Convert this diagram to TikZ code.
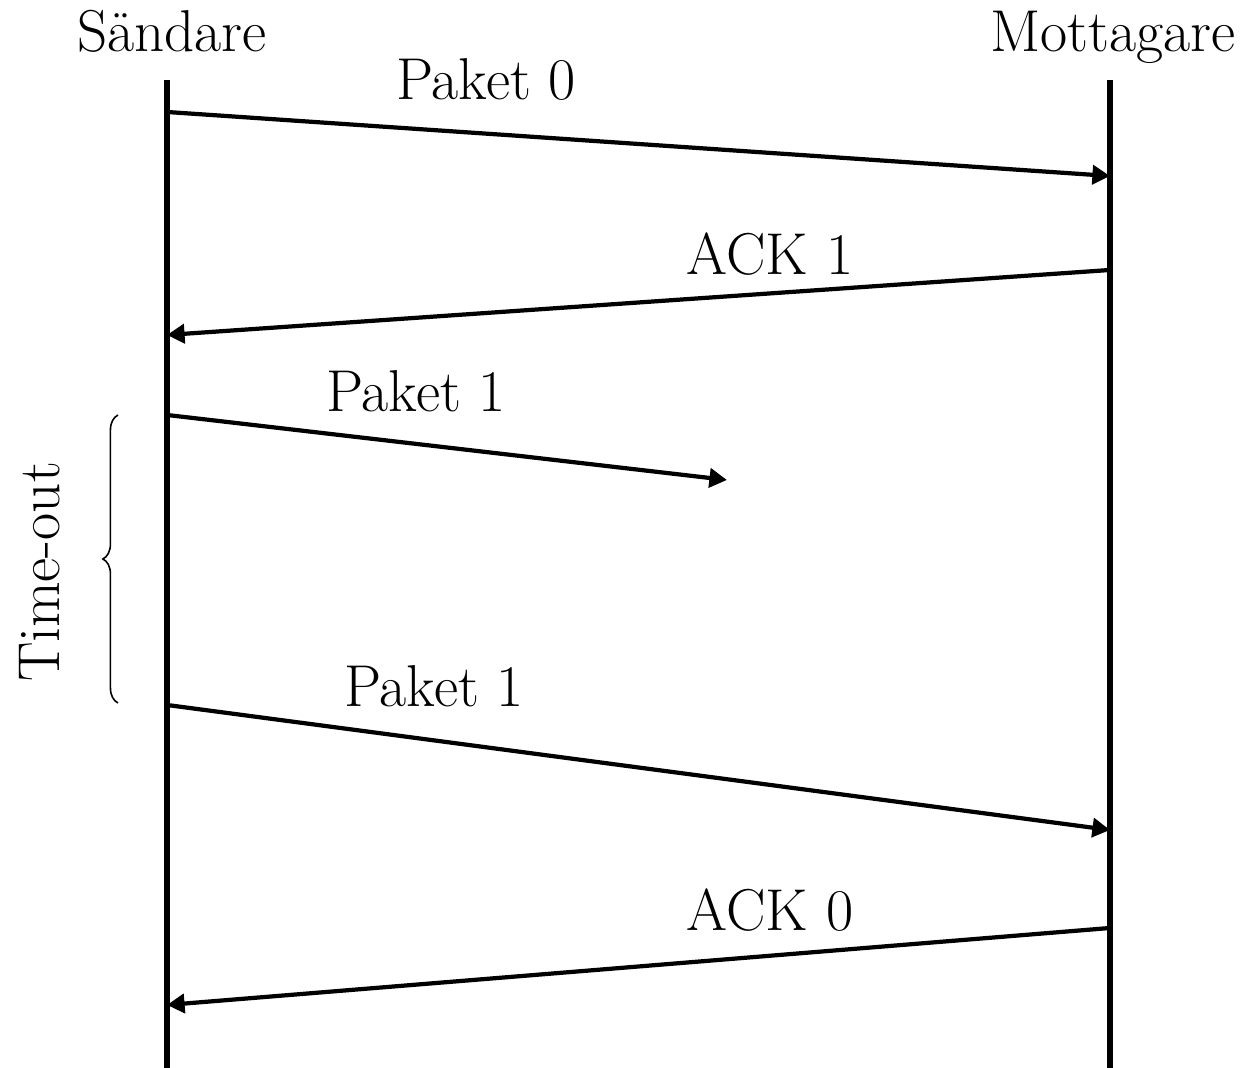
\documentclass[tikz,border=0pt]{standalone}
\usepackage{tikz}
\usetikzlibrary{arrows.meta,decorations.pathreplacing,positioning}

\tikzset{
  life/.style={line width=1.5pt},
  msg/.style={line width=1.2pt,-{Triangle[length=5pt,width=5.4pt]}},
  lbl/.style={anchor=base,inner sep=0pt},
}

\begin{document}
\begin{tikzpicture}[x=0.01cm,y=-0.01cm,font=\fontsize{16.8}{19}\selectfont]
\useasboundingbox (0,0) rectangle (1247,1068);

% the two stations
\node[lbl] (sender) at (172,52) {Sändare};
\node[lbl] (receiver) at (1113,52) {Mottagare};
\coordinate (S) at (167,80);
\coordinate (Sb) at (167,1068);
\coordinate (M) at (1110,80);
\coordinate (Mb) at (1110,1068);
\draw[life] (S) -- (Sb);
\draw[life] (M) -- (Mb);

% end points of the messages
\coordinate (S1) at (167,112);
\coordinate (M1) at (1110,176);
\coordinate (M2) at (1110,270);
\coordinate (S2) at (167,335);
\coordinate (S3) at (167,415);
\coordinate (L3) at (727,480);
\coordinate (S4) at (167,705);
\coordinate (M4) at (1110,830);
\coordinate (M5) at (1110,928);
\coordinate (S5) at (167,1005);

\draw[msg] (S1) -- (M1);
\node[lbl] (p0) at (486,100) {Paket 0};

\draw[msg] (M2) -- (S2);
\node[lbl] (a1) at (770,275) {ACK 1};

\draw[msg] (S3) -- (L3);
\node[lbl] (p1) at (416,412) {Paket 1};

\draw[msg] (S4) -- (M4);
\node[lbl] (p1b) at (434,707) {Paket 1};

\draw[msg] (M5) -- (S5);
\node[lbl] (a0) at (770,931) {ACK 0};

% time-out brace
\coordinate (B1) at (118,703);
\coordinate (B2) at (118,415);
\draw[line width=0.45pt,decorate,decoration={brace,amplitude=4.3pt}] (B1) -- (B2);
\node[lbl,rotate=90] (timeout) at (60,572) {Time-out};

\end{tikzpicture}
\end{document}
